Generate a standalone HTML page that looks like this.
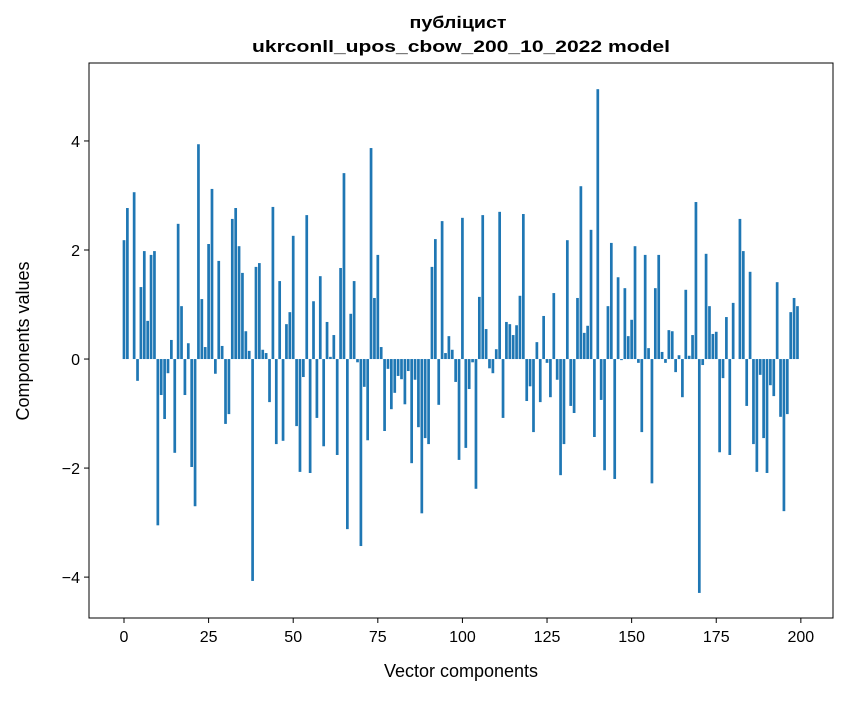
<!DOCTYPE html>
<html><head><meta charset="utf-8"><style>
body{margin:0;background:#fff;}
svg text{font-family:"Liberation Sans","DejaVu Sans",sans-serif;fill:#000;}
</style></head><body>
<svg id="chart" width="847" height="696" xmlns="http://www.w3.org/2000/svg">
<rect width="847" height="696" fill="#fff"/>
<text x="458" y="28" text-anchor="middle" font-size="17" font-weight="bold" textLength="97" lengthAdjust="spacingAndGlyphs">публіцист</text>
<text x="461" y="52" text-anchor="middle" font-size="17" font-weight="bold" textLength="418" lengthAdjust="spacingAndGlyphs">ukrconll_upos_cbow_200_10_2022 model</text>
<g id="bars"></g>
<g id="xticks"></g>
<g id="yticks"></g>
<rect x="89" y="63" width="744" height="555" fill="none" stroke="#000" stroke-width="1"/>
<text x="461" y="677" text-anchor="middle" font-size="18">Vector components</text>
<text transform="translate(29,341) rotate(-90)" text-anchor="middle" font-size="18">Components values</text>
</svg>
<script>
const values = [2.18,2.77,0,3.06,-0.40,1.32,1.98,0.70,1.91,1.98,
-3.05,-0.66,-1.10,-0.26,0.35,-1.72,2.48,0.97,-0.66,0.29,
-1.98,-2.70,3.94,1.10,0.22,2.11,3.12,-0.27,1.80,0.24,
-1.19,-1.01,2.57,2.77,2.07,1.58,0.51,0.15,-4.07,1.69,
1.76,0.17,0.11,-0.79,2.79,-1.56,1.43,-1.50,0.64,0.86,
2.26,-1.23,-2.07,-0.33,2.64,-2.09,1.06,-1.08,1.52,-1.60,
0.68,0.04,0.44,-1.76,1.67,3.41,-3.12,0.83,1.43,-0.06,
-3.43,-0.51,-1.49,3.87,1.12,1.91,0.22,-1.32,-0.18,-0.92,
-0.62,-0.31,-0.37,-0.83,-0.22,-1.91,-0.38,-1.25,-2.83,-1.45,
-1.56,1.69,2.20,-0.84,2.53,0.11,0.42,0.17,-0.42,-1.85,
2.59,-1.63,-0.55,-0.06,-2.38,1.14,2.64,0.55,-0.17,-0.26,
0.18,2.70,-1.08,0.68,0.64,0.44,0.62,1.16,2.66,-0.77,
-0.50,-1.34,0.31,-0.79,0.79,-0.07,-0.70,1.21,-0.38,-2.13,
-1.56,2.18,-0.86,-0.99,1.12,3.17,0.48,0.61,2.37,-1.43,
4.95,-0.75,-2.04,0.97,2.13,-2.20,1.50,-0.02,1.30,0.42,
0.72,2.07,-0.07,-1.34,1.91,0.20,-2.28,1.30,1.91,0.13,
-0.07,0.53,0.51,-0.24,0.07,-0.70,1.27,0.06,0.44,2.88,
-4.29,-0.11,1.93,0.97,0.46,0.50,-1.71,-0.35,0.77,-1.76,
1.03,0,2.57,1.98,-0.86,1.60,-1.56,-2.07,-0.29,-1.45,
-2.09,-0.48,-0.68,1.41,-1.06,-2.79,-1.01,0.86,1.12,0.97];
const xTicks = [0,25,50,75,100,125,150,175,200];
const yTicks = [-4,-2,0,2,4];
const yTickLabels = ["\u22124","\u22122","0","2","4"];

const NS="http://www.w3.org/2000/svg";
const xMin=-10.34, xMax=209.5, pl=89, pr=833;
const yMin=-4.75, yMax=5.43, pt=63, pb=618;
function xs(v){return pl+(v-xMin)/(xMax-xMin)*(pr-pl);}
function ys(v){return pb-(v-yMin)/(yMax-yMin)*(pb-pt);}
const bars=document.getElementById('bars');
values.forEach((v,i)=>{
  const r=document.createElementNS(NS,'rect');
  const x0=xs(i-0.4), x1=xs(i+0.4);
  const y0=ys(Math.max(v,0)), y1=ys(Math.min(v,0));
  r.setAttribute('x',x0);r.setAttribute('width',x1-x0);
  r.setAttribute('y',y0);r.setAttribute('height',Math.max(y1-y0,0.01));
  r.setAttribute('fill','#1f77b4');
  
  
  bars.appendChild(r);
});
const xg=document.getElementById('xticks');
xTicks.forEach(t=>{
  const l=document.createElementNS(NS,'line');
  l.setAttribute('x1',xs(t));l.setAttribute('x2',xs(t));
  l.setAttribute('y1',pb);l.setAttribute('y2',pb+5);l.setAttribute('stroke','#000');
  
  
  xg.appendChild(l);
  const tx=document.createElementNS(NS,'text');
  tx.setAttribute('x',xs(t));tx.setAttribute('y',pb+24);
  tx.setAttribute('text-anchor','middle');tx.setAttribute('font-size','16');
  tx.textContent=t;
  
  
  xg.appendChild(tx);
});
const yg=document.getElementById('yticks');
yTicks.forEach((t,k)=>{
  const l=document.createElementNS(NS,'line');
  l.setAttribute('x1',pl-5);l.setAttribute('x2',pl);
  l.setAttribute('y1',ys(t));l.setAttribute('y2',ys(t));l.setAttribute('stroke','#000');
  
  
  yg.appendChild(l);
  const tx=document.createElementNS(NS,'text');
  tx.setAttribute('x',pl-9);tx.setAttribute('y',ys(t)+6);
  tx.setAttribute('text-anchor','end');tx.setAttribute('font-size','16');
  tx.textContent=yTickLabels[k];
  
  
  yg.appendChild(tx);
});
</script>
</body></html>
